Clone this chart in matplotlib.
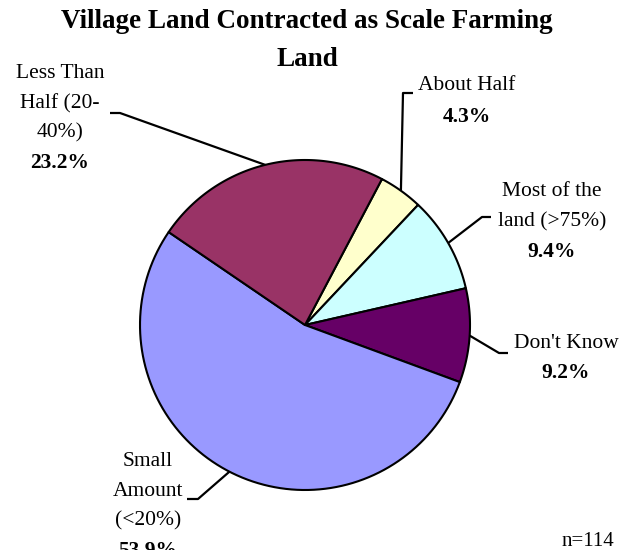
import numpy as np
import matplotlib
matplotlib.use("Agg")
import matplotlib.pyplot as plt

plt.rcParams['font.family'] = ['Liberation Serif', 'DejaVu Serif']

# pie data, clockwise from the top-right slice
labels = [["About Half"],
          ["Most of the", "land (>75%)"],
          ["Don't Know"],
          ["Small", "Amount", "(<20%)"],
          ["Less Than", "Half (20-", "40%)"]]
values = [4.3, 9.4, 9.2, 53.9, 23.2]
colors = ["#FFFFCC", "#CCFFFF", "#660066", "#9999FF", "#993366"]
n_resp = 114

W, H = 623, 550
fig = plt.figure(figsize=(W / 100, H / 100), dpi=100)
ax = fig.add_axes([0, 0, 1, 1])
ax.set_xlim(0, W)
ax.set_ylim(H, 0)
ax.set_axis_off()

cx, cy, r = 305, 325, 165
start = 27.8  # degrees clockwise from 12 o'clock

# pixel layout (y down): label x, first line y, elbow end x, elbow x, elbow y
layout = [
    (467, 86, 413, 403, 93),
    (552, 192, 491, 482, 217),
    (566, 343, 508, 499, 353),
    (148, 462, 187, 198, 499),
    (60, 74, 110, 120, 113),
]
step = 29.5

total = sum(values)
a = start
for lab, v, c, (lx, ly, ex, bx, by) in zip(labels, values, colors, layout):
    span = 360.0 * v / total
    # wedge drawn as a polygon in screen-like coords (y down)
    t = np.radians(np.linspace(a, a + span, 100))
    xs = np.concatenate([[cx], cx + r * np.sin(t), [cx]])
    ys = np.concatenate([[cy], cy - r * np.cos(t), [cy]])
    ax.fill(xs, ys, facecolor=c, edgecolor="black", linewidth=1.5, joinstyle="round")
    mid = np.radians(a + span / 2)
    px, py = cx + r * np.sin(mid), cy - r * np.cos(mid)
    ax.plot([ex, bx, px], [by, by, py], color="black", linewidth=1.6,
            solid_capstyle="butt")
    for i, line in enumerate(lab):
        ax.text(lx, ly + i * step, line, ha="center", va="center", fontsize=15.5)
    ax.text(lx, ly + len(lab) * step + 1, f"{v:.1f}%", ha="center", va="center",
            fontsize=15.5, fontweight="bold")
    a += span

ax.text(307, 22, "Village Land Contracted as Scale Farming", ha="center",
        va="center", fontsize=19.5, fontweight="bold")
ax.text(307, 60, "Land", ha="center", va="center", fontsize=19.5, fontweight="bold")
ax.text(588, 541, f"n={n_resp}", ha="center", va="center", fontsize=15)

fig.savefig("out.png", dpi=100, facecolor="white")
